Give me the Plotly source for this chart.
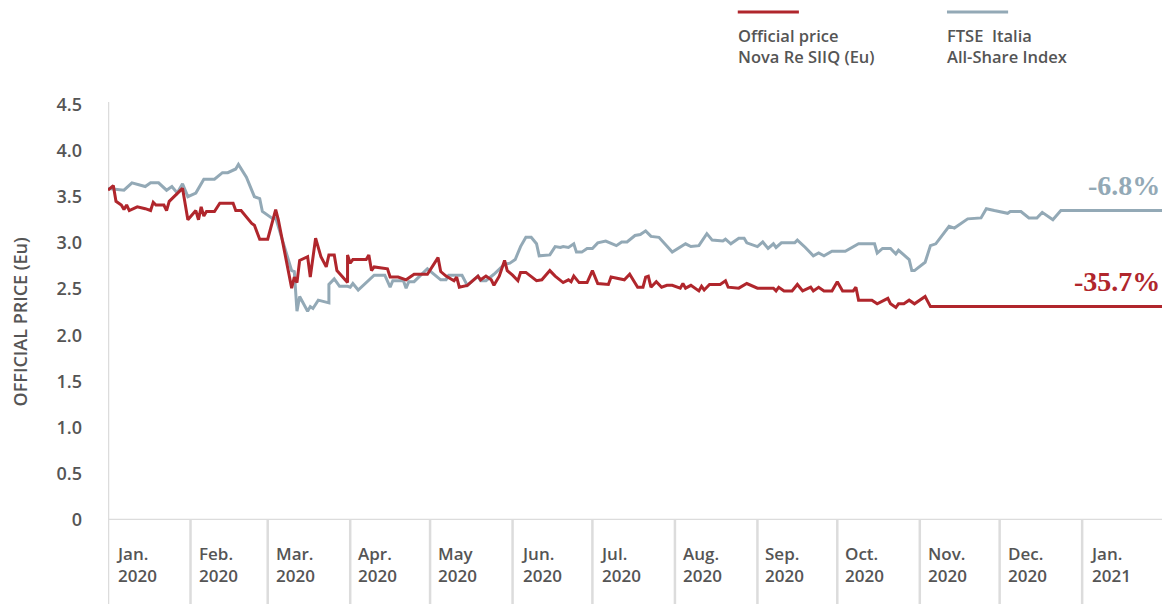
import plotly.graph_objects as go

# ---------------- data ----------------
nova_dates = [
    "2020-01-01", "2020-01-03", "2020-01-04", "2020-01-06", "2020-01-07", "2020-01-08", "2020-01-09",
    "2020-01-12", "2020-01-15", "2020-01-17", "2020-01-18", "2020-01-19", "2020-01-22", "2020-01-23",
    "2020-01-24", "2020-01-28", "2020-01-29", "2020-01-31", "2020-02-03", "2020-02-04", "2020-02-05",
    "2020-02-06", "2020-02-07", "2020-02-10", "2020-02-12", "2020-02-17", "2020-02-18", "2020-02-20",
    "2020-02-24", "2020-02-25", "2020-02-27", "2020-03-01", "2020-03-04", "2020-03-05", "2020-03-06",
    "2020-03-10", "2020-03-11", "2020-03-12", "2020-03-13", "2020-03-16", "2020-03-17", "2020-03-19",
    "2020-03-21", "2020-03-23", "2020-03-24", "2020-03-26", "2020-03-27", "2020-03-31", "2020-03-31",
    "2020-04-01", "2020-04-02", "2020-04-07", "2020-04-08", "2020-04-09", "2020-04-10", "2020-04-15",
    "2020-04-16", "2020-04-19", "2020-04-22", "2020-04-25", "2020-04-30", "2020-05-04", "2020-05-05",
    "2020-05-07", "2020-05-10", "2020-05-11", "2020-05-12", "2020-05-15", "2020-05-19", "2020-05-20",
    "2020-05-22", "2020-05-24", "2020-05-25", "2020-05-27", "2020-05-29", "2020-05-30", "2020-06-01",
    "2020-06-03", "2020-06-04", "2020-06-06", "2020-06-10", "2020-06-12", "2020-06-15", "2020-06-17",
    "2020-06-20", "2020-06-22", "2020-06-23", "2020-06-24", "2020-06-26", "2020-06-29", "2020-07-01",
    "2020-07-03", "2020-07-07", "2020-07-08", "2020-07-13", "2020-07-15", "2020-07-18", "2020-07-20",
    "2020-07-21", "2020-07-22", "2020-07-23", "2020-07-25", "2020-07-27", "2020-07-29", "2020-07-31",
    "2020-08-03", "2020-08-04", "2020-08-05", "2020-08-07", "2020-08-10", "2020-08-11", "2020-08-12",
    "2020-08-14", "2020-08-18", "2020-08-20", "2020-08-21", "2020-08-25", "2020-08-28", "2020-09-01",
    "2020-09-07", "2020-09-08", "2020-09-09", "2020-09-11", "2020-09-14", "2020-09-16", "2020-09-18",
    "2020-09-21", "2020-09-22", "2020-09-24", "2020-09-26", "2020-09-29", "2020-10-01", "2020-10-03",
    "2020-10-07", "2020-10-08", "2020-10-09", "2020-10-14", "2020-10-16", "2020-10-20", "2020-10-21",
    "2020-10-23", "2020-10-24", "2020-10-26", "2020-10-28", "2020-10-30", "2020-11-03", "2020-11-05",
    "2021-01-31",
]
nova_price = [
    3.57, 3.62, 3.45, 3.41, 3.36, 3.41, 3.35,
    3.39, 3.37, 3.35, 3.44, 3.41, 3.41, 3.35,
    3.45, 3.57, 3.59, 3.25, 3.35, 3.25, 3.39,
    3.29, 3.34, 3.34, 3.43, 3.43, 3.35, 3.35,
    3.21, 3.19, 3.04, 3.04, 3.36, 3.25, 3.10,
    2.51, 2.63, 2.57, 2.81, 2.85, 2.63, 3.05,
    2.85, 2.74, 2.87, 2.87, 2.70, 2.57, 2.87,
    2.78, 2.82, 2.82, 2.87, 2.70, 2.74, 2.72,
    2.63, 2.63, 2.60, 2.66, 2.66, 2.84, 2.69,
    2.64, 2.59, 2.63, 2.52, 2.54, 2.64, 2.60,
    2.64, 2.60, 2.54, 2.64, 2.81, 2.70, 2.65,
    2.59, 2.68, 2.68, 2.59, 2.60, 2.70, 2.64,
    2.57, 2.60, 2.58, 2.64, 2.57, 2.57, 2.70,
    2.56, 2.55, 2.63, 2.60, 2.66, 2.52, 2.52,
    2.63, 2.64, 2.52, 2.58, 2.52, 2.54, 2.54,
    2.51, 2.56, 2.51, 2.54, 2.48, 2.53, 2.49,
    2.55, 2.55, 2.59, 2.52, 2.51, 2.56, 2.51,
    2.51, 2.48, 2.52, 2.48, 2.48, 2.55, 2.48,
    2.52, 2.48, 2.52, 2.48, 2.48, 2.58, 2.48,
    2.48, 2.52, 2.38, 2.38, 2.34, 2.40, 2.34,
    2.30, 2.34, 2.34, 2.38, 2.34, 2.42, 2.31,
    2.31,
]

ftse_dates = [
    "2020-01-01", "2020-01-07", "2020-01-10", "2020-01-15", "2020-01-17", "2020-01-20", "2020-01-23",
    "2020-01-25", "2020-01-27", "2020-01-29", "2020-01-31", "2020-02-03", "2020-02-06", "2020-02-10",
    "2020-02-13", "2020-02-15", "2020-02-18", "2020-02-19", "2020-02-22", "2020-02-25", "2020-02-27",
    "2020-02-28", "2020-03-03", "2020-03-04", "2020-03-10", "2020-03-11", "2020-03-12", "2020-03-13",
    "2020-03-16", "2020-03-17", "2020-03-18", "2020-03-20", "2020-03-24", "2020-03-24", "2020-03-26",
    "2020-03-28", "2020-03-31", "2020-04-01", "2020-04-02", "2020-04-04", "2020-04-10", "2020-04-14",
    "2020-04-16", "2020-04-17", "2020-04-21", "2020-04-22", "2020-04-23", "2020-04-25", "2020-04-30",
    "2020-05-05", "2020-05-07", "2020-05-08", "2020-05-13", "2020-05-15", "2020-05-19", "2020-05-20",
    "2020-05-22", "2020-05-25", "2020-05-29", "2020-05-31", "2020-06-02", "2020-06-04", "2020-06-06",
    "2020-06-08", "2020-06-10", "2020-06-11", "2020-06-15", "2020-06-17", "2020-06-19", "2020-06-20",
    "2020-06-22", "2020-06-24", "2020-06-25", "2020-06-27", "2020-06-29", "2020-07-01", "2020-07-03",
    "2020-07-06", "2020-07-10", "2020-07-12", "2020-07-14", "2020-07-17", "2020-07-19", "2020-07-21",
    "2020-07-23", "2020-07-26", "2020-07-31", "2020-08-03", "2020-08-05", "2020-08-07", "2020-08-10",
    "2020-08-13", "2020-08-15", "2020-08-19", "2020-08-20", "2020-08-22", "2020-08-25", "2020-08-27",
    "2020-08-28", "2020-09-01", "2020-09-03", "2020-09-05", "2020-09-07", "2020-09-08", "2020-09-10",
    "2020-09-15", "2020-09-16", "2020-09-19", "2020-09-22", "2020-09-24", "2020-09-26", "2020-09-29",
    "2020-10-04", "2020-10-09", "2020-10-15", "2020-10-16", "2020-10-18", "2020-10-21", "2020-10-23",
    "2020-10-24", "2020-10-28", "2020-10-29", "2020-10-30", "2020-11-03", "2020-11-05", "2020-11-07",
    "2020-11-12", "2020-11-14", "2020-11-19", "2020-11-24", "2020-11-26", "2020-11-29", "2020-12-04",
    "2020-12-05", "2020-12-09", "2020-12-12", "2020-12-15", "2020-12-17", "2020-12-21", "2020-12-24",
    "2021-01-31",
]
ftse_index = [
    3.59, 3.57, 3.65, 3.61, 3.65, 3.65, 3.57,
    3.61, 3.54, 3.64, 3.50, 3.54, 3.69, 3.69,
    3.76, 3.76, 3.80, 3.85, 3.71, 3.50, 3.48,
    3.34, 3.26, 3.27, 2.70, 2.69, 2.26, 2.42,
    2.26, 2.31, 2.29, 2.38, 2.35, 2.55, 2.61,
    2.53, 2.53, 2.52, 2.56, 2.49, 2.65, 2.65,
    2.52, 2.59, 2.59, 2.51, 2.58, 2.58, 2.72,
    2.60, 2.60, 2.65, 2.65, 2.54, 2.64, 2.59,
    2.59, 2.66, 2.77, 2.78, 2.82, 2.96, 3.06,
    3.06, 2.99, 2.86, 2.87, 2.96, 2.95, 2.96,
    2.95, 2.99, 2.90, 2.90, 2.94, 2.94, 3.00,
    3.02, 2.97, 3.01, 3.01, 3.08, 3.09, 3.13,
    3.07, 3.06, 2.90, 2.95, 2.99, 2.96, 2.97,
    3.10, 3.03, 3.02, 3.04, 2.99, 3.05, 3.05,
    3.00, 2.96, 3.01, 2.94, 2.99, 2.95, 3.00,
    3.00, 3.03, 2.95, 2.86, 2.89, 2.86, 2.91,
    2.91, 2.99, 2.99, 2.89, 2.94, 2.94, 2.88,
    2.92, 2.82, 2.70, 2.70, 2.79, 2.97, 2.99,
    3.18, 3.16, 3.26, 3.27, 3.37, 3.35, 3.32,
    3.34, 3.34, 3.27, 3.27, 3.33, 3.25, 3.35,
    3.35,
]

month_starts = ["2020-01-01", "2020-02-01", "2020-03-01", "2020-04-01", "2020-05-01",
                "2020-06-01", "2020-07-01", "2020-08-01", "2020-09-01", "2020-10-01",
                "2020-11-01", "2020-12-01", "2021-01-01"]
month_labels = ["Jan.<br>2020", "Feb.<br>2020", "Mar.<br>2020", "Apr.<br>2020", "May<br>2020",
                "Jun.<br>2020", "Jul.<br>2020", "Aug.<br>2020", "Sep.<br>2020", "Oct.<br>2020",
                "Nov.<br>2020", "Dec.<br>2020", "Jan.<br>2021"]

y_ticks = [0, 0.5, 1.0, 1.5, 2.0, 2.5, 3.0, 3.5, 4.0, 4.5]
y_tick_text = ["0", "0.5", "1.0", "1.5", "2.0", "2.5", "3.0", "3.5", "4.0", "4.5"]

series_names = ["Official price<br>Nova Re SIIQ (Eu)", "FTSE  Italia<br>All-Share Index"]
change_labels = ["-35.7%", "-6.8%"]

# ---------------- style ----------------
RED = "#b0262c"
GREY = "#93a9b6"
TEXT = "#555555"
RULE = "#dcdcdc"
SANS = "Open Sans"
SERIF = "Liberation Serif"

fig = go.Figure()
fig.add_trace(go.Scatter(x=ftse_dates, y=ftse_index, mode="lines",
                         line=dict(color=GREY, width=3), name="FTSE", showlegend=False))
fig.add_trace(go.Scatter(x=nova_dates, y=nova_price, mode="lines",
                         line=dict(color=RED, width=3), name="Nova", showlegend=False))

shapes = []
# x axis baseline
shapes.append(dict(type="line", xref="paper", yref="y", x0=0, x1=1, y0=0, y1=0,
                   line=dict(color=RULE, width=2.5), layer="below"))
# month separators
for i, m in enumerate(month_starts):
    shapes.append(dict(type="line", xref="x", yref="paper", x0=m, x1=m,
                       y0=-0.205, y1=(1 if i == 0 else 0),
                       line=dict(color=RULE, width=2.5), layer="below"))
# legend swatches
shapes.append(dict(type="line", xref="paper", yref="paper", x0=0.5975, x1=0.6555,
                   y0=1.2153, y1=1.2153, line=dict(color=RED, width=3)))
shapes.append(dict(type="line", xref="paper", yref="paper", x0=0.7960, x1=0.8540,
                   y0=1.2153, y1=1.2153, line=dict(color=GREY, width=3)))

annotations = []
for m, lab in zip(month_starts, month_labels):
    annotations.append(dict(x=m, xref="x", y=-0.048, yref="paper", text=lab,
                            xanchor="left", yanchor="top", align="left", xshift=6,
                            showarrow=False,
                            font=dict(family=SANS, size=17, color=TEXT, weight=600)))
# y title
annotations.append(dict(x=-0.0835, xref="paper", y=0.475, yref="paper",
                        text="OFFICIAL PRICE (Eu)", textangle=-90, showarrow=False,
                        xanchor="center", yanchor="middle",
                        font=dict(family=SANS, size=18, color=TEXT, weight=600)))
# legend texts
annotations.append(dict(x=0.5975, xref="paper", y=1.1925, yref="paper", text=series_names[0],
                        xanchor="left", yanchor="top", align="left", showarrow=False, xshift=-2,
                        font=dict(family=SANS, size=16.5, color=TEXT, weight=600)))
annotations.append(dict(x=0.7960, xref="paper", y=1.1925, yref="paper", text=series_names[1],
                        xanchor="left", yanchor="top", align="left", showarrow=False, xshift=-2,
                        font=dict(family=SANS, size=16.5, color=TEXT, weight=600)))
# change labels
annotations.append(dict(x=1, xref="paper", y=nova_price[-1] + 0.27, yref="y",
                        text=change_labels[0], xanchor="right", yanchor="middle",
                        showarrow=False,
                        font=dict(family=SERIF, size=28, color=RED, weight="bold")))
annotations.append(dict(x=1, xref="paper", y=ftse_index[-1] + 0.27, yref="y",
                        text=change_labels[1], xanchor="right", yanchor="middle",
                        showarrow=False,
                        font=dict(family=SERIF, size=28, color=GREY, weight="bold")))

fig.update_layout(
    width=1166, height=604,
    margin=dict(l=108, r=4, t=102, b=84),
    paper_bgcolor="white", plot_bgcolor="white",
    showlegend=False,
    shapes=shapes,
    annotations=annotations,
    xaxis=dict(type="date", range=["2020-01-01", "2021-01-31"], showticklabels=False,
               showgrid=False, zeroline=False, showline=False, ticks=""),
    yaxis=dict(range=[0, 4.525], tickvals=y_ticks, ticktext=y_tick_text,
               showgrid=False, zeroline=False, showline=False, ticks="",
               ticklabelstandoff=25,
               tickfont=dict(family=SANS, size=18, color=TEXT, weight=600)),
)

fig.write_html("out.html")
